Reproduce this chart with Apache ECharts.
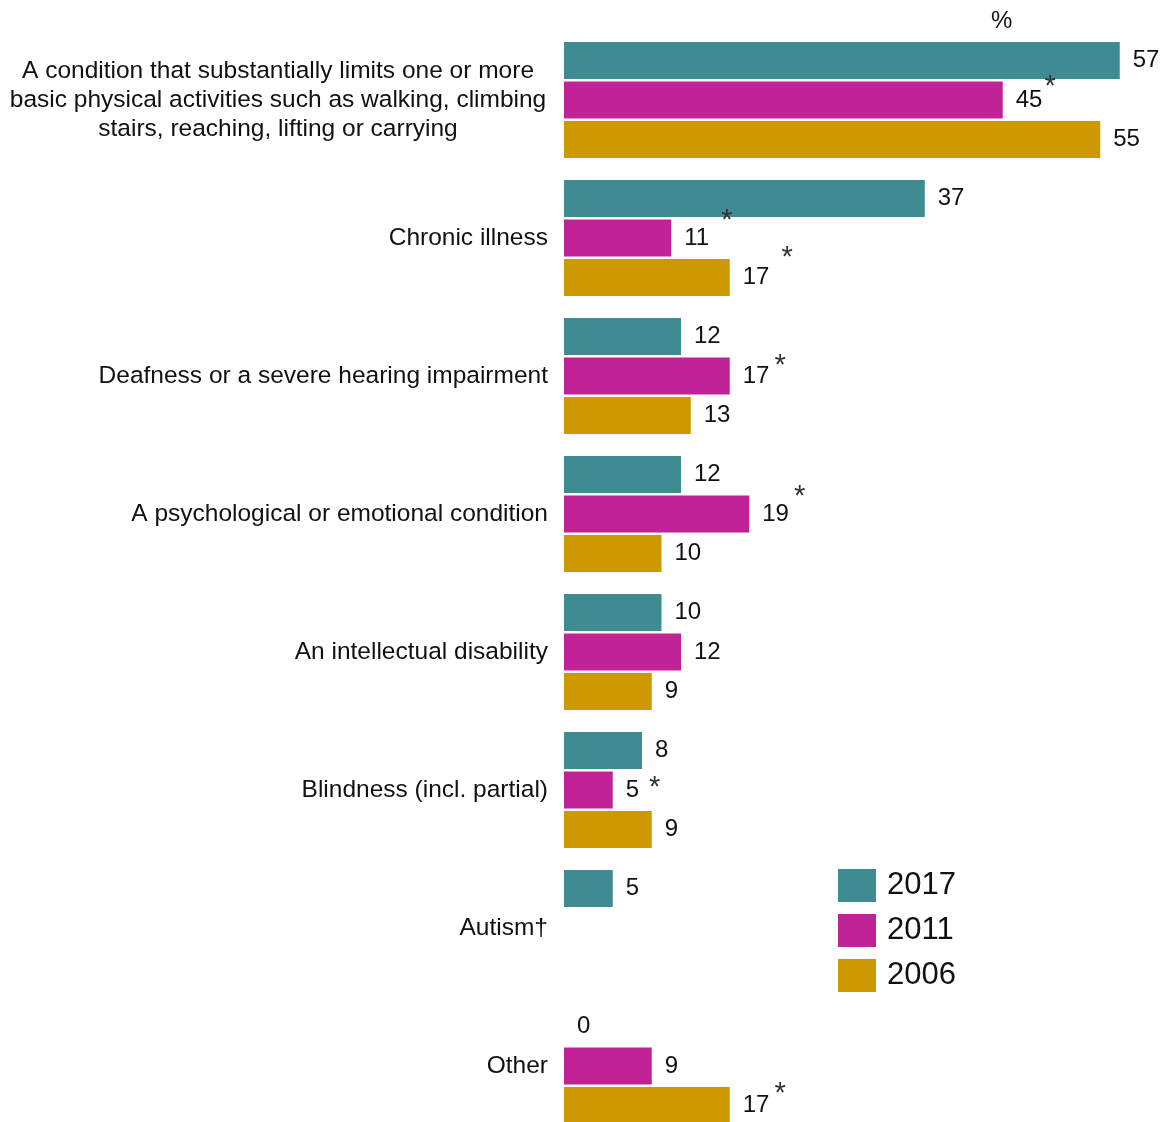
<!DOCTYPE html>
<html>
<head>
<meta charset="utf-8">
<script src="https://cdn.jsdelivr.net/npm/echarts@6/dist/echarts.min.js"></script>
<style>
  html, body { margin: 0; padding: 0; background: #ffffff; }
  #chart { width: 1169px; height: 1122px; }
</style>
</head>
<body>
<div id="chart"></div>
<script>
// Types of disability reported, by survey year (%)
const categories = [
  'A condition that substantially limits one or more\nbasic physical activities such as walking, climbing\nstairs, reaching, lifting or carrying',
  'Chronic illness',
  'Deafness or a severe hearing impairment',
  'A psychological or emotional condition',
  'An intellectual disability',
  'Blindness (incl. partial)',
  'Autism†',
  'Other'
];
const years = ['2017', '2011', '2006'];
const values2017 = [57, 37, 12, 12, 10, 8, 5, 0];
const values2011 = [45, 11, 17, 19, 12, 5, null, 9];
const values2006 = [55, 17, 13, 10, 9, 9, null, 17];
// 1 = statistically significant difference (marked with *)
const signif2017 = [0, 0, 0, 0, 0, 0, 0, 0];
const signif2011 = [1, 1, 1, 1, 0, 1, 0, 0];
const signif2006 = [0, 1, 0, 0, 0, 0, 0, 1];

const seriesValues = [values2017, values2011, values2006];
const seriesSignif = [signif2017, signif2011, signif2006];
const colors = ['#3e8b91', '#c02396', '#cc9900'];

// Placement of each asterisk relative to its value label: [left gap, lift]
const starPlacement = {
  '1_0': [2, 26],
  '1_1': [12, 34],
  '2_1': [12, 40],
  '1_2': [5, 20],
  '1_3': [5, 34],
  '1_5': [10, 4],
  '2_7': [5, 24]
};

const FONT = 'Liberation Sans, Arial, sans-serif';
const textColor = '#111111';
const valueRich = { v: { fontSize: 24, color: textColor, fontFamily: FONT } };
Object.keys(starPlacement).forEach(function (k) {
  const p = starPlacement[k];
  valueRich['s_' + k] = {
    fontSize: 29,
    color: '#333333',
    fontFamily: FONT,
    padding: [0, 0, p[1], p[0]]
  };
});

function valueFormatter(params) {
  const flag = seriesSignif[params.seriesIndex][params.dataIndex];
  let txt = '{v|' + params.value + '}';
  if (flag) {
    txt += '{s_' + params.seriesIndex + '_' + params.dataIndex + '|*}';
  }
  return txt;
}

const chart = echarts.init(document.getElementById('chart'), null, { renderer: 'canvas' });

const option = {
  backgroundColor: '#ffffff',
  animation: false,
  textStyle: { fontFamily: FONT },
  grid: {
    left: 564,
    top: 31,
    width: 585,
    height: 1104,
    containLabel: false,
    outerBoundsMode: 'none'
  },
  xAxis: {
    type: 'value',
    min: 0,
    max: 60,
    show: false,
    splitLine: { show: false }
  },
  yAxis: {
    type: 'category',
    inverse: true,
    data: categories,
    axisLine: { show: false },
    axisTick: { show: false },
    splitLine: { show: false },
    axisLabel: {
      margin: 16,
      fontSize: 24.5,
      lineHeight: 29,
      color: textColor,
      interval: 0,
      formatter: function (value) {
        if (value.indexOf('\n') < 0) return value;
        return value.split('\n').map(function (line) { return '{c|' + line + '}'; }).join('\n');
      },
      rich: {
        c: { width: 540, align: 'center', fontSize: 24.5, lineHeight: 29, color: textColor }
      }
    }
  },
  legend: {
    orient: 'vertical',
    left: 833,
    top: 864,
    itemWidth: 38,
    itemHeight: 33,
    itemGap: 12,
    icon: 'rect',
    data: years,
    textStyle: { fontSize: 31, color: textColor, padding: [0, 0, 0, 6] }
  },
  graphic: [
    {
      type: 'text',
      left: 991,
      top: 9,
      style: { text: '%', fontSize: 24, fill: textColor, fontFamily: FONT }
    }
  ],
  series: years.map(function (y, i) {
    return {
      name: y,
      type: 'bar',
      data: seriesValues[i],
      barWidth: 37,
      barGap: '7%',
      itemStyle: { color: colors[i] },
      label: {
        show: true,
        position: 'right',
        distance: 13,
        formatter: valueFormatter,
        rich: valueRich
      }
    };
  })
};

chart.setOption(option);
</script>
</body>
</html>
